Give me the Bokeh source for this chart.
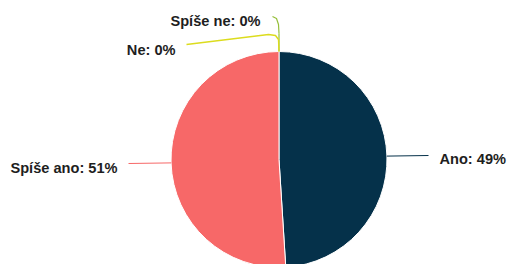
import numpy as np
from bokeh.plotting import figure
from bokeh.models import Range1d
from bokeh.core.properties import value
from bokeh.embed import file_html
from bokeh.resources import INLINE

# Data
categories = ["Ano", "Spíše ano", "Ne", "Spíše ne"]
percents = [49, 51, 0, 0]
colors = ["#05314a", "#f76868", "#dcdc1e", "#95bf3a"]

W, H = 507, 264
p = figure(width=W, height=H, output_backend="svg", toolbar_location=None,
           x_range=Range1d(0, W), y_range=Range1d(0, H), min_border=0)
p.axis.visible = False
p.grid.visible = False
p.outline_line_color = None
p.background_fill_color = "white"
p.border_fill_color = "white"

# Geometry (pixel units, y measured from bottom)
cx, cy, r = 278.5, 105.0, 108.0

vals = np.array(percents, dtype=float)
frac = vals / vals.sum()
cum = np.concatenate([[0], np.cumsum(frac)])
starts = np.pi / 2 - 2 * np.pi * cum[:-1]
ends = np.pi / 2 - 2 * np.pi * cum[1:]

for i in range(len(categories)):
    if frac[i] > 0:
        p.wedge(x=cx, y=cy, radius=r, start_angle=starts[i], end_angle=ends[i],
                direction="clock", fill_color=colors[i], line_color="white", line_width=1)

mid = (starts + ends) / 2
ex = cx + r * np.cos(mid)
ey = cy + r * np.sin(mid)

font = value("Liberation Sans")
tcol = "#1e1e1e"
fs = "14.6px"

# Ano connector and label
p.line([ex[0], 428], [ey[0], 109], line_color=colors[0], line_width=1)
p.text(x=[439], y=[106], text=[f"{categories[0]}: {percents[0]}%"], text_font=font,
       text_font_size=fs, text_font_style="bold", text_color=tcol,
       text_align="left", text_baseline="middle")

# Spíše ano
p.line([ex[1], 128], [ey[1], 101], line_color=colors[1], line_width=1)
p.text(x=[117], y=[97], text=[f"{categories[1]}: {percents[1]}%"], text_font=font,
       text_font_size=fs, text_font_style="bold", text_color=tcol,
       text_align="right", text_baseline="middle")

# Spíše ne (green) connector
p.line([272, 276, 278, 278.5], [248, 246, 240, 231], line_color=colors[3], line_width=1.2)
p.line([ex[3], 278.5], [ey[3], 231], line_color=colors[3], line_width=1.2)
p.text(x=[260], y=[244], text=[f"{categories[3]}: {percents[3]}%"], text_font=font,
       text_font_size=fs, text_font_style="bold", text_color=tcol,
       text_align="right", text_baseline="middle")

# Ne (yellow) connector
p.line([186, 268, 275, 278, ex[2]], [220, 230, 229, 225, ey[2]],
       line_color=colors[2], line_width=1.4)
p.text(x=[175], y=[215], text=[f"{categories[2]}: {percents[2]}%"], text_font=font,
       text_font_size=fs, text_font_style="bold", text_color=tcol,
       text_align="right", text_baseline="middle")

open("out.html", "w").write(file_html(p, INLINE))
